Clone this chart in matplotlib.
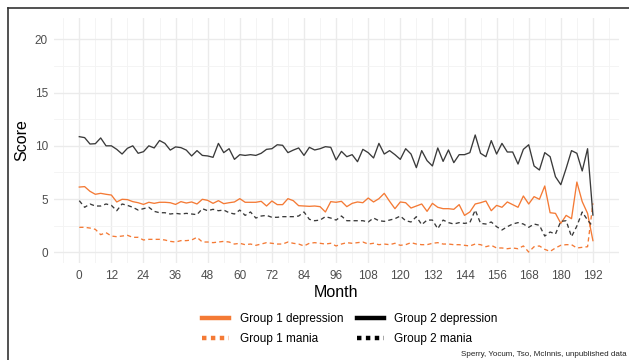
import matplotlib
matplotlib.use("Agg")
import matplotlib.pyplot as plt
from matplotlib.lines import Line2D
from matplotlib.ticker import MultipleLocator

plt.rcParams['font.family'] = ['Liberation Sans', 'DejaVu Sans']

# months, every 2 months from 0 to 192
months = list(range(0, 193, 2))

g2_dep = [10.86, 10.77, 10.17, 10.2, 10.74, 10.0, 10.0, 9.67, 9.23, 9.77,
          10.0, 9.3, 9.45, 10.0, 9.8, 10.5, 10.23, 9.6, 9.9, 9.83,
          9.6, 9.05, 9.55, 9.1, 9.05, 8.92, 10.23, 9.36, 9.73, 8.73,
          9.17, 9.1, 9.17, 9.1, 9.3, 9.67, 9.73, 10.1, 10.05, 9.36,
          9.6, 9.8, 9.1,
          9.86, 9.61, 9.73, 9.92, 9.86, 8.67, 9.48, 8.98, 9.17, 8.51,
          9.67, 9.36, 8.86, 10.23, 9.23, 9.55, 9.17, 8.73, 9.73, 9.23,
          7.95, 9.55, 8.61, 8.11, 9.8, 8.54, 9.61, 8.42, 9.17, 9.17,
          9.36, 11.02, 9.3, 8.98, 10.49, 9.23, 10.23, 9.42, 9.42, 8.29,
          9.67, 10.1, 8.11, 7.73, 9.36, 8.98, 7.1, 6.35, 7.89, 9.55,
          9.3, 7.64, 9.73, 3.5]

g1_dep = [6.13, 6.17, 5.73, 5.45, 5.54, 5.45, 5.38, 4.73, 4.98, 4.95,
          4.76, 4.66, 4.5, 4.7, 4.6, 4.7, 4.7, 4.66, 4.5, 4.76,
          4.63, 4.73, 4.54, 4.98, 4.88, 4.6, 4.85, 4.57, 4.66, 4.73,
          5.04, 4.7, 4.7, 4.7, 4.79, 4.35, 4.82, 4.48, 4.48, 5.04,
          4.85, 4.38, 4.35,
          4.32, 4.35, 4.29, 3.79, 4.76, 4.7, 4.79, 4.29, 4.6, 4.73,
          4.66, 5.1, 4.73, 5.04, 5.54, 4.79, 4.1, 4.73, 4.66, 4.16,
          4.35, 4.54, 3.85, 4.6, 4.23, 4.1, 4.1, 4.04, 4.48, 3.47,
          3.79, 4.54, 4.66, 4.82, 3.91, 4.41, 4.23, 4.73, 4.48, 4.23,
          5.29, 4.54, 5.23, 4.98, 6.23, 3.72, 3.66, 2.72, 3.47, 3.16,
          6.6, 4.76, 3.66, 1.1]

g2_mania = [4.85, 4.23, 4.54, 4.35, 4.35, 4.54, 4.41, 3.91, 4.54, 4.41,
            4.23, 3.97, 4.1, 4.23, 3.85, 3.72, 3.72, 3.6, 3.66, 3.6,
            3.66, 3.6, 3.54, 4.1, 3.91, 4.04, 3.91, 3.97, 3.72, 3.6,
            3.97, 3.47, 3.79, 3.22, 3.41, 3.47, 3.29, 3.29, 3.35, 3.35,
            3.35, 3.41, 3.79,
            3.1, 2.97, 3.03, 3.35, 3.22, 3.03, 3.41, 2.97, 2.97, 2.97,
            2.97, 2.85, 3.22, 2.97, 2.91, 3.03, 3.16, 3.41, 2.97, 2.85,
            3.35, 2.6, 3.03, 3.03, 2.22, 3.03, 2.79, 2.66, 2.79, 2.72,
            2.79, 3.97, 2.72, 2.66, 2.85, 2.41, 2.1, 2.41, 2.66, 2.79,
            2.66, 2.35, 2.66, 2.54, 1.53, 1.91, 1.72, 2.91, 2.97, 1.47,
            2.47, 3.79, 3.03, 2.41]

g1_mania = [2.35, 2.35, 2.28, 2.16, 1.66, 1.85, 1.53, 1.47, 1.53, 1.6,
            1.41, 1.41, 1.16, 1.22, 1.22, 1.22, 1.16, 1.03, 0.97, 1.1,
            1.1, 1.16, 1.41, 0.97, 0.97, 0.91, 0.97, 1.03, 0.97, 0.78,
            0.85, 0.72, 0.78, 0.66, 0.78, 0.91, 0.85, 0.78, 0.78, 0.97,
            0.85, 0.78, 0.6,
            0.85, 0.91, 0.85, 0.78, 0.85, 0.6, 0.78, 0.91, 0.85, 0.91,
            0.97, 0.78, 0.85, 0.72, 0.78, 0.72, 0.85, 0.66, 0.72, 0.91,
            0.78, 0.72, 0.72, 0.85, 0.91, 0.78, 0.78, 0.72, 0.72, 0.66,
            0.6, 0.78, 0.72, 0.53, 0.66, 0.41, 0.41, 0.34, 0.41, 0.34,
            0.6, 0.03, 0.53, 0.6, 0.28, 0.09, 0.41, 0.66, 0.72, 0.72,
            0.41, 0.47, 0.53, 4.6]

orange = '#F47A35'
dark = '#3A3A3A'
grid_c = '#EBEBEB'

fig = plt.figure(figsize=(6.29, 3.6), dpi=100)
ax = fig.add_axes([53.6 / 629, 97 / 360, 565 / 629, 245 / 360])

dash = (0, (3.2, 2.4))
ax.plot(months, g1_dep, color=orange, lw=0.95)
ax.plot(months, g1_mania, color=orange, lw=0.95, linestyle=dash)
ax.plot(months, g2_dep, color=dark, lw=0.95)
ax.plot(months, g2_mania, color=dark, lw=0.95, linestyle=dash)

ax.set_xlim(-9.6, 201.6)
ax.set_ylim(-1.0, 22.0)
ax.xaxis.set_minor_locator(MultipleLocator(6))
ax.yaxis.set_minor_locator(MultipleLocator(2.5))
ax.set_yticks([0, 5, 10, 15, 20])
ax.set_xticks(list(range(0, 193, 12)))

ax.grid(which='major', color=grid_c, lw=1.0)
ax.grid(which='minor', color='#F3F3F3', lw=0.6)
ax.set_axisbelow(True)
for s in ax.spines.values():
    s.set_visible(False)

ax.tick_params(which='both', length=0, labelsize=8.5, labelcolor='#4D4D4D')
ax.tick_params(axis='x', pad=5)
ax.tick_params(axis='y', pad=4)

ax.set_xlabel('Month', fontsize=11.5, labelpad=2)
ax.set_ylabel('Score', fontsize=11.5, labelpad=4)

handles = [
    Line2D([], [], color=orange, lw=3.2),
    Line2D([], [], color=orange, lw=3.2, linestyle=(0, (1, 1))),
    Line2D([], [], color='black', lw=3.2),
    Line2D([], [], color='black', lw=3.2, linestyle=(0, (1, 1))),
]
labels = ['Group 1 depression', 'Group 1 mania', 'Group 2 depression', 'Group 2 mania']
fig.legend(handles, labels, ncol=2, loc='center',
           bbox_to_anchor=(350 / 629, 1 - 329 / 360),
           frameon=False, fontsize=8.5, handlelength=2.3,
           handletextpad=0.9, columnspacing=1.1, labelspacing=0.65)

fig.text(627 / 629, 2 / 360, 'Sperry, Yocum, Tso, McInnis, unpublished data',
         ha='right', va='bottom', fontsize=5.8, color='#222222')

# slide frame border (left and top)
fig.add_artist(Line2D([8 / 629, 8 / 629], [0, 1 - 8 / 360],
                      transform=fig.transFigure, color='#333333', lw=1.2))
fig.add_artist(Line2D([8 / 629, 1], [1 - 8 / 360, 1 - 8 / 360],
                      transform=fig.transFigure, color='#333333', lw=1.2))

fig.savefig('out.png', dpi=100)
